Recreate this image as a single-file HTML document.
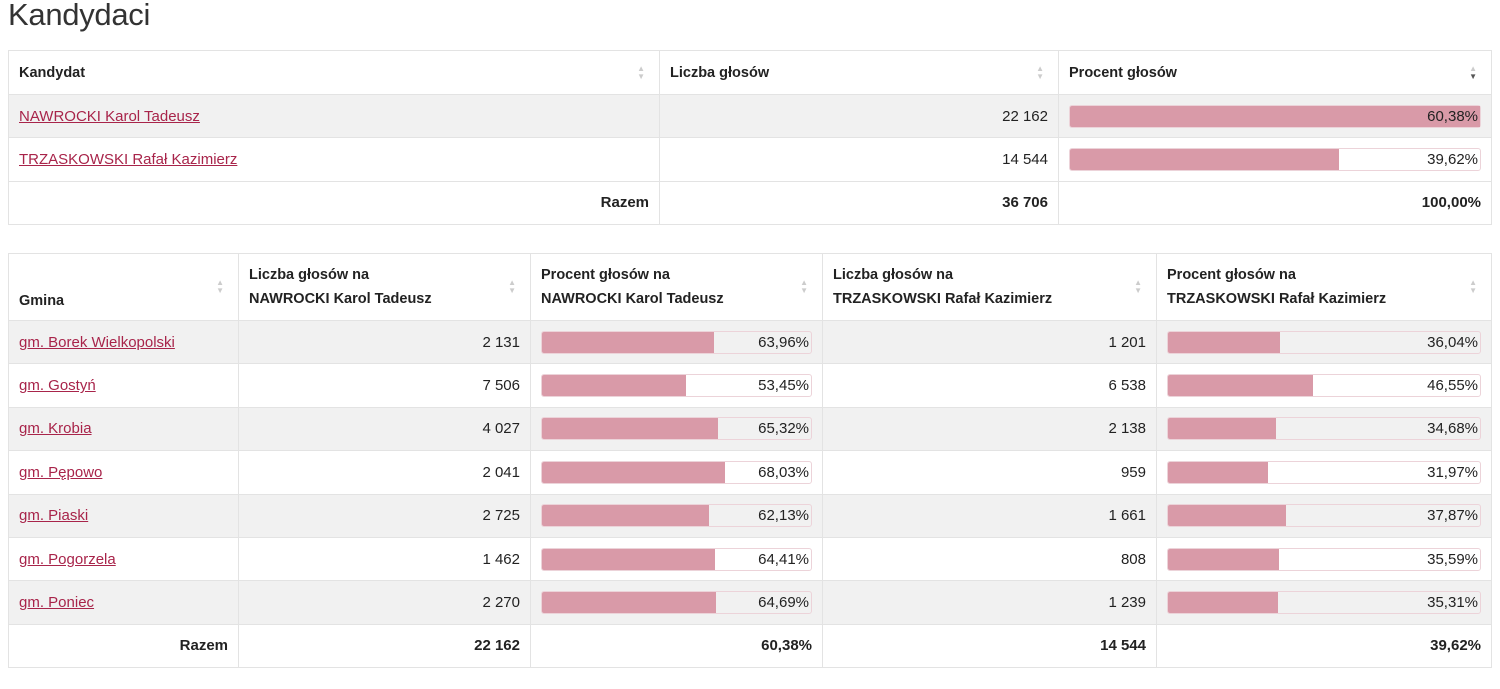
<!DOCTYPE html>
<html><head><meta charset="utf-8">
<style>
*{box-sizing:border-box;margin:0;padding:0}
body{width:1500px;height:689px;background:#fff;font-family:"Liberation Sans",sans-serif;color:#222;font-size:15px;position:relative;overflow:hidden}
h1{position:absolute;left:8px;top:-3px;font-weight:normal;font-size:31px;color:#333;letter-spacing:-0.3px}
table{position:absolute;left:8px;border-collapse:collapse;table-layout:fixed;width:1483px}
td,th{border:1px solid #e3e3e3;padding:0 10px;vertical-align:middle;position:relative}
th{text-align:left;font-weight:bold;font-size:14.5px;line-height:24px}
.sort{position:absolute;right:14px;top:50%;transform:translateY(-50%);font-size:8px;line-height:8px;color:#ccc;text-align:center}
.sort.act .d{color:#555}
tr.g td{background:#f1f1f1}
a{color:#a8244a;text-decoration:underline}
.r{text-align:right}
.b{font-weight:bold}
.bar{height:23px;border:1px solid #ecd3d9;border-radius:3px;position:relative}
.fill{position:absolute;left:0;top:0;bottom:0;background:#d99aa8;border-radius:2px 0 0 2px}
.bar span{position:absolute;right:2px;top:2px;line-height:18px}
</style></head><body>
<h1>Kandydaci</h1>
<table id="t1" style="top:50px">
<colgroup><col style="width:651px"><col style="width:399px"><col style="width:433px"></colgroup>
<tr style="height:44px"><th>Kandydat<div class="sort"><div>▲</div><div>▼</div></div></th><th>Liczba głosów<div class="sort"><div>▲</div><div>▼</div></div></th><th>Procent głosów<div class="sort act"><div>▲</div><div class="d">▼</div></div></th></tr>
</table>
<table id="t2" style="top:253px">
<colgroup><col style="width:230px"><col style="width:292px"><col style="width:292px"><col style="width:334px"><col style="width:335px"></colgroup>
<tr style="height:67px">
<th style="vertical-align:bottom;padding-bottom:7px">Gmina<div class="sort"><div>▲</div><div>▼</div></div></th>
<th>Liczba głosów na<br>NAWROCKI Karol Tadeusz<div class="sort"><div>▲</div><div>▼</div></div></th>
<th>Procent głosów na<br>NAWROCKI Karol Tadeusz<div class="sort"><div>▲</div><div>▼</div></div></th>
<th>Liczba głosów na<br>TRZASKOWSKI Rafał Kazimierz<div class="sort"><div>▲</div><div>▼</div></div></th>
<th>Procent głosów na<br>TRZASKOWSKI Rafał Kazimierz<div class="sort"><div>▲</div><div>▼</div></div></th>
</tr>
</table>
<script>
const candidates=["NAWROCKI Karol Tadeusz","TRZASKOWSKI Rafał Kazimierz"];
const candVotes=["22 162","14 544"];
const candPct=[60.38,39.62];
const gminy=["gm. Borek Wielkopolski","gm. Gostyń","gm. Krobia","gm. Pępowo","gm. Piaski","gm. Pogorzela","gm. Poniec"];
const nVotes=["2 131","7 506","4 027","2 041","2 725","1 462","2 270"];
const nPct=[63.96,53.45,65.32,68.03,62.13,64.41,64.69];
const tVotes=["1 201","6 538","2 138","959","1 661","808","1 239"];
const tPct=[36.04,46.55,34.68,31.97,37.87,35.59,35.31];
function fmt(p){return p.toFixed(2).replace('.',',')+'%';}
function bar(p,w){return '<div class="bar"><div class="fill" style="width:'+w+'%"></div><span>'+fmt(p)+'</span></div>';}
const t1=document.getElementById('t1');
const candMax=Math.max(...candPct);
candidates.forEach((c,i)=>{
  const tr=document.createElement('tr');tr.style.height='43.3px';if(i%2==0)tr.className='g';
  
  
  tr.innerHTML='<td><a href="#">'+c+'</a></td><td class="r">'+candVotes[i]+'</td><td>'+bar(candPct[i],candPct[i]/candMax*100)+'</td>';
  t1.appendChild(tr);
});
const tot1=document.createElement('tr');tot1.style.height='43px';


tot1.innerHTML='<td class="r b">Razem</td><td class="r b">36 706</td><td class="r b">100,00%</td>';
t1.appendChild(tot1);
const t2=document.getElementById('t2');
gminy.forEach((g,i)=>{
  const tr=document.createElement('tr');tr.style.height='43.4px';if(i%2==0)tr.className='g';
  
  
  tr.innerHTML='<td><a href="#">'+g+'</a></td><td class="r">'+nVotes[i]+'</td><td>'+bar(nPct[i],nPct[i])+'</td><td class="r">'+tVotes[i]+'</td><td>'+bar(tPct[i],tPct[i])+'</td>';
  t2.appendChild(tr);
});
const tot2=document.createElement('tr');tot2.style.height='43.4px';


tot2.innerHTML='<td class="r b">Razem</td><td class="r b">22 162</td><td class="r b">60,38%</td><td class="r b">14 544</td><td class="r b">39,62%</td>';
t2.appendChild(tot2);
</script>
</body></html>
